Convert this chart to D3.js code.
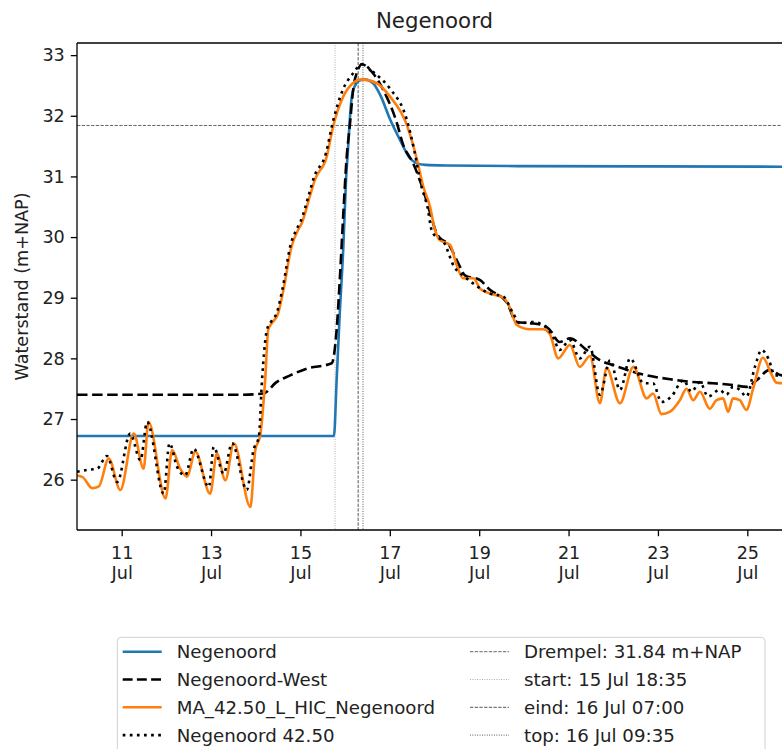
<!DOCTYPE html>
<html>
<head>
<meta charset="utf-8">
<script src="https://cdn.jsdelivr.net/npm/d3@7"></script>
<style>
  body { margin: 0; background: #fff; }
  svg { display: block; font-family: "DejaVu Sans", sans-serif; }
</style>
</head>
<body>
<svg id="chart"></svg>
<script>
// tijden in dag-van-juli (2021), decimaal
var negT = [10.00, 15.75, 15.81, 15.88, 15.96, 16.02, 16.06, 16.10, 16.14, 16.21, 16.32, 16.43, 16.62, 16.80, 17.00, 17.23, 17.45, 17.60, 17.80, 18.30, 20.00, 26.00]
var negV = [26.72, 26.72, 27.64, 28.74, 29.84, 30.94, 31.40, 31.88, 32.26, 32.48, 32.58, 32.60, 32.54, 32.32, 31.95, 31.60, 31.30, 31.22, 31.19, 31.18, 31.17, 31.16]

var westT = [10.00, 13.65, 14.18, 14.21, 14.45, 14.77, 15.14, 15.70, 15.81, 15.88, 15.96, 16.03, 16.11, 16.18, 16.29, 16.37, 16.59, 16.85, 17.15, 17.30,
             17.52, 17.78, 17.94, 18.05, 18.35, 18.53, 18.68, 19.02, 19.24, 19.61, 19.84, 20.13, 20.43, 20.58, 20.80, 21.03, 21.40, 21.70, 21.99, 22.44,
             22.89, 23.33, 23.78, 24.23, 24.68, 24.99, 25.21, 25.50, 25.77, 26.00]
var westV = [27.40, 27.40, 27.42, 27.43, 27.60, 27.72, 27.83, 27.92, 28.47, 29.29, 30.39, 31.27, 31.88, 32.43, 32.76, 32.85, 32.73, 32.43, 31.90, 31.52,
             31.22, 30.70, 30.30, 30.06, 29.84, 29.57, 29.37, 29.29, 29.13, 28.93, 28.60, 28.58, 28.55, 28.47, 28.27, 28.33, 28.14, 27.97, 27.89, 27.78,
             27.70, 27.65, 27.61, 27.59, 27.56, 27.53, 27.64, 27.81, 27.72, 27.72]

var maT = [10.00, 10.13, 10.34, 10.49, 10.71, 10.97, 11.27, 11.49, 11.60, 11.98, 12.13, 12.31, 12.46, 12.65, 12.98, 13.13, 13.32, 13.51, 13.88, 13.99,
           14.10, 14.21, 14.28, 14.36, 14.50, 14.62, 14.80, 14.95, 15.03, 15.21, 15.32, 15.59, 15.73, 15.96, 16.18, 16.37, 16.70, 17.00, 17.38, 17.60,
           17.75, 17.90, 18.01, 18.12, 18.35, 18.49, 18.64, 18.87, 19.02, 19.24, 19.54, 19.69, 19.84, 20.13, 20.43, 20.58, 20.77, 21.03, 21.25, 21.48,
           21.70, 21.85, 22.15, 22.45, 22.75, 22.89, 23.08, 23.27, 23.49, 23.64, 23.79, 23.94, 24.16, 24.31, 24.46, 24.57, 24.68, 24.83, 24.98, 25.13,
           25.35, 25.54, 25.65, 25.77, 26.00]
var maV = [26.07, 26.04, 25.86, 25.89, 26.35, 25.83, 26.76, 26.18, 26.95, 25.69, 26.49, 26.18, 26.05, 26.46, 25.77, 26.43, 25.99, 26.60, 25.55, 26.49,
           26.73, 27.64, 28.47, 28.58, 28.74, 29.13, 29.84, 30.12, 30.23, 30.67, 30.94, 31.33, 31.82, 32.32, 32.54, 32.60, 32.54, 32.32, 31.85, 31.30,
           30.83, 30.50, 30.12, 29.95, 29.87, 29.55, 29.32, 29.32, 29.15, 29.07, 29.00, 28.83, 28.55, 28.48, 28.48, 28.40, 28.00, 28.22, 27.86, 28.04,
           27.26, 27.84, 27.26, 27.86, 27.34, 27.42, 27.08, 27.12, 27.31, 27.50, 27.31, 27.45, 27.17, 27.31, 27.34, 27.12, 27.34, 27.31, 27.15, 27.50,
           28.01, 27.74, 27.60, 27.59, 27.58]

var obsT = [10.00, 10.22, 10.45, 10.67, 10.90, 11.19, 11.42, 11.57, 11.94, 12.07, 12.24, 12.42, 12.61, 12.95, 13.06, 13.28, 13.47, 13.80, 13.95, 14.07,
            14.14, 14.25, 14.34, 14.48, 14.60, 14.78, 14.93, 15.01, 15.19, 15.30, 15.57, 15.72, 15.95, 16.18, 16.37, 16.63, 17.00, 17.37, 17.55, 17.69,
            17.84, 17.95, 18.22, 18.44, 18.67, 18.97, 19.24, 19.54, 19.76, 19.91, 20.20, 20.45, 20.65, 20.80, 21.03, 21.25, 21.48, 21.70, 21.93, 22.15,
            22.38, 22.68, 22.89, 23.08, 23.30, 23.57, 23.75, 23.94, 24.12, 24.38, 24.53, 24.68, 24.83, 24.98, 25.17, 25.32, 25.47, 25.62, 25.77, 26.00]
var obsV = [26.13, 26.16, 26.18, 26.39, 25.96, 26.76, 26.32, 26.95, 25.77, 26.60, 26.21, 26.07, 26.51, 25.88, 26.54, 26.10, 26.60, 25.83, 26.49, 26.71,
            27.64, 28.47, 28.60, 28.77, 29.15, 29.87, 30.15, 30.27, 30.70, 30.98, 31.38, 31.88, 32.43, 32.70, 32.85, 32.72, 32.45, 31.96, 31.42, 30.89,
            30.50, 30.08, 29.90, 29.51, 29.35, 29.18, 29.07, 29.02, 28.74, 28.58, 28.60, 28.54, 28.36, 28.14, 28.30, 28.00, 28.19, 27.40, 27.97, 27.48,
            28.00, 27.59, 27.59, 27.28, 27.37, 27.64, 27.45, 27.61, 27.37, 27.48, 27.40, 27.53, 27.48, 27.37, 27.86, 28.14, 28.00, 27.72, 27.72, 27.70]

var seriesNames = ["Negenoord", "Negenoord-West", "MA_42.50_L_HIC_Negenoord", "Negenoord 42.50"]
var drempel = 31.84
var markerNames = ["start: 15 Jul 18:35", "eind: 16 Jul 07:00", "top: 16 Jul 09:35"]
var markerTimes = ["2021-07-15T18:35Z", "2021-07-16T07:00Z", "2021-07-16T09:35Z"]
var xTickDays = [11, 13, 15, 17, 19, 21, 23, 25]
var yTicks = [26, 27, 28, 29, 30, 31, 32, 33]

!(function(){
    "use strict"

    var width = 782, height = 749
    var margin = {top: 43, left: 77, bottom: 219, right: -10}
    var chartWidth, chartHeight
    var svg = d3.select("#chart")
    var fs = 17.6, legendFs = 18.2

    function toDate(t) { return new Date(Date.UTC(2021, 6, 1) + (t - 1) * 864e5) }

    setSize()
    drawChart()

    function setSize() {
        chartWidth = width - (margin.left + margin.right)
        chartHeight = height - (margin.top + margin.bottom)
        svg.attr("width", width).attr("height", height)
    }

    function drawChart() {
        var x = d3.scaleUtc()
            .domain([toDate(10), toDate(26)])
            .range([margin.left, margin.left + chartWidth])
        var y = d3.scaleLinear()
            .domain([25.17, 33.2])
            .range([margin.top + chartHeight, margin.top])

        svg.append("defs").append("clipPath").attr("id", "clip")
            .append("rect")
            .attr("x", margin.left).attr("y", margin.top)
            .attr("width", chartWidth).attr("height", chartHeight)

        var styles = [
            {color: "#1f77b4", dash: null, legendDash: null},
            {color: "#000", dash: "10.5,4.6", legendDash: "9.9,4.3"},
            {color: "#ff7f0e", dash: null, legendDash: null},
            {color: "#000", dash: "2.7,4.4", legendDash: "2.7,4.4"}
        ]
        var markerStyles = [
            {color: "#555", dash: "3.3,1.4"},
            {color: "#999", dash: "0.9,1.5"},
            {color: "#444", dash: "3.3,1.4"},
            {color: "#333", dash: "0.9,1.5"}
        ]

        var series = [
            d3.zip(negT, negV),
            d3.zip(westT, westV),
            d3.zip(maT, maV),
            d3.zip(obsT, obsV)
        ]

        var line = d3.line()
            .x(function(d) { return x(toDate(d[0])) })
            .y(function(d) { return y(d[1]) })
            .curve(d3.curveMonotoneX)

        var plot = svg.append("g").attr("clip-path", "url(#clip)")

        // drempel en tijdstippen
        plot.append("line")
            .attr("x1", margin.left).attr("x2", margin.left + chartWidth)
            .attr("y1", y(drempel)).attr("y2", y(drempel))
            .attr("stroke", markerStyles[0].color)
            .attr("stroke-width", 0.9)
            .attr("stroke-dasharray", markerStyles[0].dash)

        plot.selectAll(".marker")
            .data(markerTimes)
            .enter().append("line")
            .attr("class", "marker")
            .attr("x1", function(d) { return x(d3.isoParse(d)) })
            .attr("x2", function(d) { return x(d3.isoParse(d)) })
            .attr("y1", margin.top).attr("y2", margin.top + chartHeight)
            .attr("stroke", function(d, i) { return markerStyles[i + 1].color })
            .attr("stroke-width", 0.9)
            .attr("stroke-dasharray", function(d, i) { return markerStyles[i + 1].dash })

        plot.selectAll(".series")
            .data(series)
            .enter().append("path")
            .attr("class", "series")
            .attr("d", line)
            .attr("fill", "none")
            .attr("stroke", function(d, i) { return styles[i].color })
            .attr("stroke-width", 2.6)
            .attr("stroke-dasharray", function(d, i) { return styles[i].dash })

        // assen
        var xAxis = d3.axisBottom(x)
            .tickValues(xTickDays.map(toDate))
            .tickSize(6.2)
            .tickSizeOuter(0)
        var xG = svg.append("g")
            .attr("transform", "translate(0," + (margin.top + chartHeight) + ")")
            .call(xAxis)
        xG.select(".domain").remove()
        xG.selectAll(".tick text").each(function(d) {
            var t = d3.select(this).attr("dy", null).attr("y", null).text(null)
            t.append("tspan").attr("x", 0).attr("y", 28.5).text(d3.utcFormat("%-d")(d))
            t.append("tspan").attr("x", 0).attr("y", 49).text("Jul")
        })

        var yAxis = d3.axisLeft(y)
            .tickValues(yTicks)
            .tickSize(6.2)
            .tickPadding(6)
            .tickSizeOuter(0)
        var yG = svg.append("g")
            .attr("transform", "translate(" + margin.left + ",0)")
            .call(yAxis)
        yG.select(".domain").remove()

        svg.selectAll(".tick line").attr("stroke", "#000").attr("stroke-width", 1.3)
        svg.selectAll(".tick text")
            .attr("fill", "#222")
            .attr("font-size", fs)
            .attr("font-family", "DejaVu Sans, sans-serif")

        // kader
        var frame = svg.append("g").attr("stroke", "#000").attr("stroke-width", 1.3)
        frame.append("line").attr("x1", margin.left).attr("x2", margin.left)
            .attr("y1", margin.top).attr("y2", margin.top + chartHeight)
        frame.append("line").attr("x1", margin.left).attr("x2", margin.left + chartWidth)
            .attr("y1", margin.top).attr("y2", margin.top)
        frame.append("line").attr("x1", margin.left).attr("x2", margin.left + chartWidth)
            .attr("y1", margin.top + chartHeight).attr("y2", margin.top + chartHeight)
        frame.append("line").attr("x1", margin.left + chartWidth).attr("x2", margin.left + chartWidth)
            .attr("y1", margin.top).attr("y2", margin.top + chartHeight)

        svg.append("text")
            .attr("x", margin.left + chartWidth / 2)
            .attr("y", 28)
            .attr("text-anchor", "middle")
            .attr("font-size", 21.3)
            .attr("fill", "#222")
            .text("Negenoord")

        svg.append("text")
            .attr("transform", "translate(28," + (margin.top + chartHeight / 2) + ") rotate(-90)")
            .attr("text-anchor", "middle")
            .attr("font-size", fs)
            .attr("fill", "#222")
            .text("Waterstand (m+NAP)")

        drawLegend(styles, markerStyles)
    }

    function drawLegend(styles, markerStyles) {
        var lg = svg.append("g")
        var box = lg.append("rect")
            .attr("rx", 4).attr("ry", 4)
            .attr("fill", "#fff").attr("fill-opacity", 0.8)
            .attr("stroke", "#d0d0d0").attr("stroke-width", 1)

        var left = 117.3, top = 637.3, rowY = 651.7, rowH = 27.8
        var handleLen = 39, textGap = 15

        var col1 = seriesNames.map(function(name, i) {
            return {name: name, color: styles[i].color, dash: styles[i].legendDash, lw: 2.6, row: i}
        })
        var col2 = ["Drempel: " + drempel.toFixed(2) + " m+NAP"].concat(markerNames)
            .map(function(name, i) {
                return {name: name, color: markerStyles[i].color, dash: markerStyles[i].dash, lw: 0.9, row: i}
            })

        function addCol(items, hx) {
            var g = lg.append("g")
            var maxW = 0
            items.forEach(function(d) {
                var cy = rowY + d.row * rowH
                g.append("line")
                    .attr("x1", hx).attr("x2", hx + handleLen)
                    .attr("y1", cy).attr("y2", cy)
                    .attr("stroke", d.color)
                    .attr("stroke-width", d.lw)
                    .attr("stroke-dasharray", d.dash)
                var t = g.append("text")
                    .attr("x", hx + handleLen + textGap)
                    .attr("y", cy)
                    .attr("dy", "0.36em")
                    .attr("font-size", legendFs)
                    .attr("fill", "#222")
                    .text(d.name)
                maxW = Math.max(maxW, t.node().getComputedTextLength())
            })
            return hx + handleLen + textGap + maxW
        }

        addCol(col1, 122.7)
        var end2 = addCol(col2, 470)

        box.attr("x", left).attr("y", top)
            .attr("width", Math.max(765, end2 + 9) - left)
            .attr("height", 130)
    }
}());
</script>
</body>
</html>
